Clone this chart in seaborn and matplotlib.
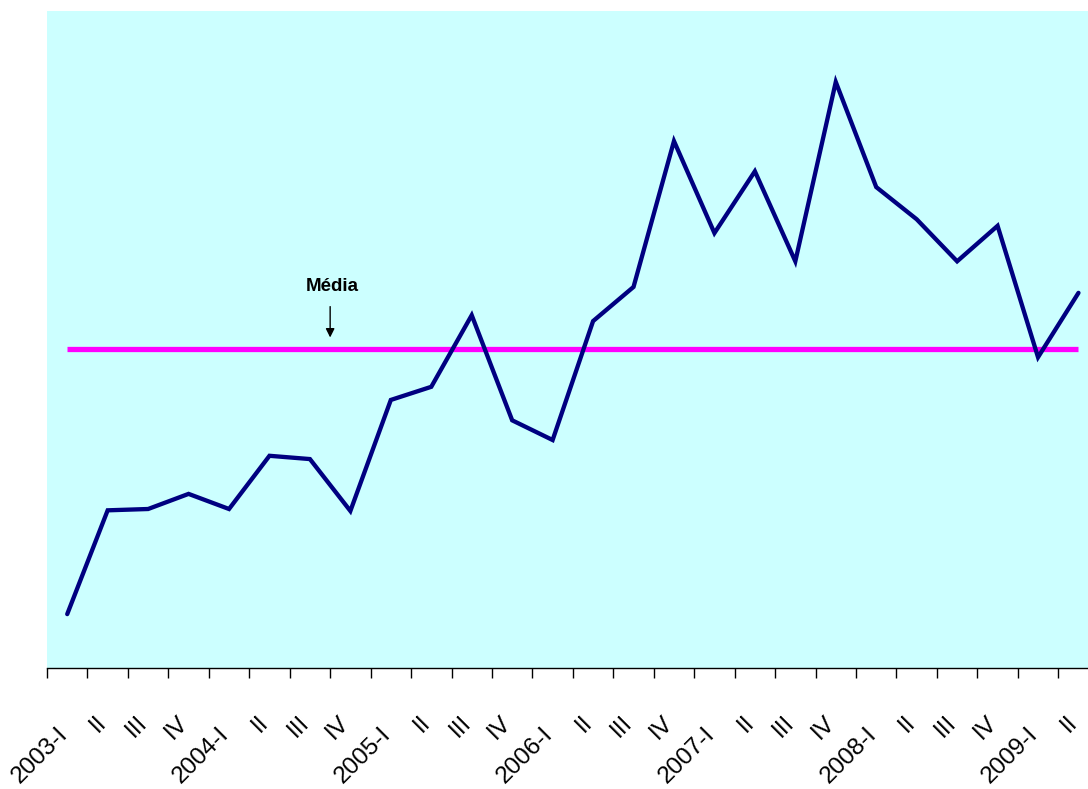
import matplotlib
matplotlib.use("Agg")
import matplotlib.pyplot as plt
import matplotlib.transforms as mtransforms
import seaborn as sns
import pandas as pd
import numpy as np

# Quarterly series, 2003-I to 2009-II
quarters = ["2003-I", "II", "III", "IV",
            "2004-I", "II", "III", "IV",
            "2005-I", "II", "III", "IV",
            "2006-I", "II", "III", "IV",
            "2007-I", "II", "III", "IV",
            "2008-I", "II", "III", "IV",
            "2009-I", "II"]
values = [8.2, 24.0, 24.2, 26.5,
          24.2, 32.3, 31.8, 23.9,
          40.8, 42.8, 53.7, 37.7,
          34.7, 52.8, 58.0, 80.2,
          66.2, 75.6, 61.9, 89.2,
          73.2, 68.3, 61.9, 67.3,
          47.3, 57.1]
mean_label = "Média"

df = pd.DataFrame({"pos": np.arange(len(quarters)), "quarter": quarters, "value": values})
mean_value = float(np.mean(values))

sns.set_theme(style="white")
plt.rcParams["font.family"] = ["Liberation Sans", "DejaVu Sans"]

W, H = 1088, 789
fig = plt.figure(figsize=(W / 100, H / 100), dpi=100)
step = 40.45
left_px, bottom_px, top_px = 47, 668, 11
ax = fig.add_axes([left_px / W, (H - bottom_px) / H,
                   step * len(quarters) / W, (bottom_px - top_px) / H])
ax.set_facecolor("#CCFFFF")

# Series line
sns.lineplot(data=df, x="pos", y="value", ax=ax, color="#000080",
             linewidth=3.1, solid_capstyle="round", solid_joinstyle="miter",
             zorder=3)

# Mean line
ax.hlines(mean_value, df["pos"].iloc[0], df["pos"].iloc[-1],
          colors="#FF00FF", linewidth=3.8, zorder=2)

# Annotation for the mean
ax.annotate("", xy=(6.5, mean_value + 1.7), xytext=(6.5, mean_value + 6.4),
            arrowprops=dict(arrowstyle="-|>", color="black", lw=1.0,
                            mutation_scale=13, shrinkA=0, shrinkB=0),
            zorder=4)
ax.text(6.55, mean_value + 9.5, mean_label, ha="center", va="center",
        fontsize=13.5, fontweight="bold", color="black")

ax.set_xlim(-0.5, len(quarters) - 0.5)
ax.set_ylim(0, 100)

# Category labels at centres, tick marks at boundaries
ax.set_xticks(df["pos"])
ax.set_xticklabels(quarters, rotation=45, ha="right", va="baseline",
                   rotation_mode="anchor", fontsize=17.5, color="black")
ax.set_xticks(np.arange(len(quarters) + 1) - 0.5, minor=True)
ax.tick_params(axis="x", which="major", length=0, pad=40)
ax.tick_params(axis="x", which="minor", length=7.5, width=1.0,
               color="black", direction="out", bottom=True)

# Year labels sit a little lower than the quarter numerals
shift = mtransforms.ScaledTranslation(0.01, -0.12, fig.dpi_scale_trans)
for lab in ax.get_xticklabels():
    if "-" in lab.get_text():
        lab.set_transform(lab.get_transform() + shift)

ax.set_yticks([])
ax.set_xlabel("")
ax.set_ylabel("")

for side in ["left", "top", "right"]:
    ax.spines[side].set_visible(False)
ax.spines["bottom"].set_color("black")
ax.spines["bottom"].set_linewidth(1.0)

fig.savefig("out.png", dpi=100)
